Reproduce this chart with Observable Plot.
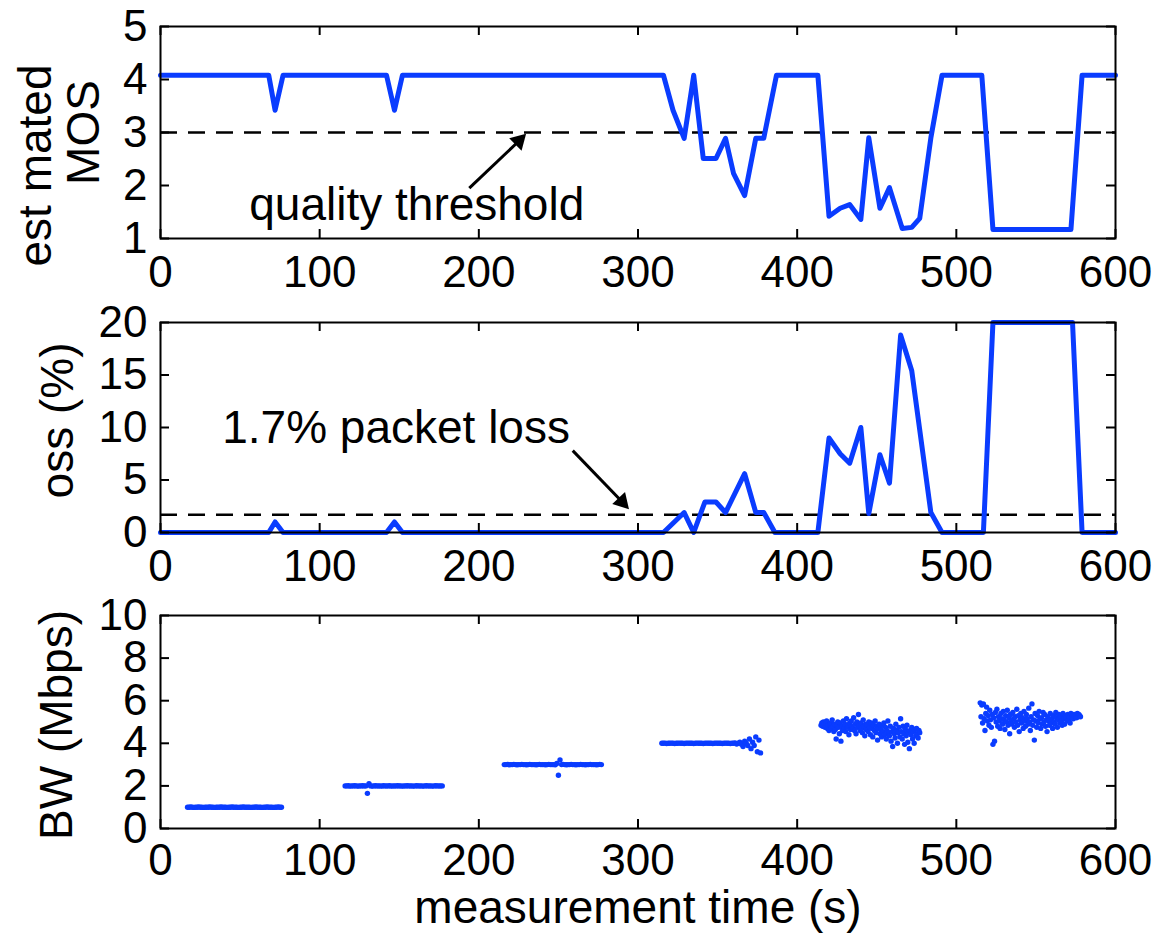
<!DOCTYPE html>
<html>
<head>
<meta charset="utf-8">
<script src="https://cdn.jsdelivr.net/npm/d3@7"></script>
<script src="https://cdn.jsdelivr.net/npm/@observablehq/plot@0.6"></script>
<style>
  html, body { margin: 0; padding: 0; background: white; }
  #chart svg { display: block; }
</style>
</head>
<body>
<div id="chart"></div>
<script>
// ---------- data ----------
const xTicks = [0, 100, 200, 300, 400, 500, 600];
const mosTicks = [1, 2, 3, 4, 5];
const lossTicks = [0, 5, 10, 15, 20];
const bwTicks = [0, 2, 4, 6, 8, 10];

const mosT = [0, 68, 72, 77, 142, 147, 152, 316, 322, 329, 335, 341, 349, 355, 360, 367, 374, 379, 387, 413, 420, 427, 433, 440, 445, 452, 458, 466, 472, 477, 484, 491, 516, 523, 572, 579, 600];
const mosV = [4.08, 4.08, 3.42, 4.08, 4.08, 3.42, 4.08, 4.08, 3.42, 2.89, 4.08, 2.51, 2.51, 2.89, 2.23, 1.81, 2.89, 2.89, 4.08, 4.08, 1.42, 1.57, 1.64, 1.36, 2.9, 1.57, 1.96, 1.19, 1.21, 1.38, 2.9, 4.08, 4.08, 1.17, 1.17, 4.08, 4.08];

const lossT = [0, 68, 72, 77, 142, 147, 152, 316, 329, 335, 342, 349, 355, 367, 374, 379, 386, 413, 420, 427, 433, 440, 445, 452, 458, 465, 472, 484, 491, 517, 523, 573, 579, 600];
const lossV = [0, 0, 1.0, 0, 0, 1.0, 0, 0, 1.9, 0, 2.9, 2.9, 1.9, 5.6, 1.9, 1.9, 0, 0, 9.0, 7.5, 6.6, 10.0, 1.8, 7.4, 4.7, 18.8, 15.4, 1.9, 0, 0, 20, 20, 0, 0];

const mosThreshold = [3];
const lossThreshold = [1.7];

// bandwidth samples: start time and sample spacing per step
const bwStart = [17, 116, 216, 315, 415, 515];
const bwStep = [1, 1, 1, 1, 0.5, 0.5];
const bw1 = [1.00,1.00,1.01,1.00,0.99,1.00,1.00,1.01,1.00,1.00,0.99,1.00,1.00,1.00,1.01,1.00,1.00,0.99,1.00,1.00,
             1.00,1.01,1.00,1.00,1.00,0.99,1.00,1.00,1.01,1.00,1.00,1.00,0.99,1.00,1.00,1.01,1.00,1.00,1.00,1.00,
             0.99,1.00,1.00,1.01,1.00,1.00,1.00,0.99,1.00,1.00,1.01,1.00,1.00,1.00,0.99,1.00,1.00,1.01,1.00,1.00];
const bw2 = [2.00,2.00,2.01,1.99,2.00,2.00,2.01,2.00,1.99,2.00,2.00,2.01,2.00,2.00,1.65,2.10,2.00,1.99,2.00,2.01,
             2.00,2.00,2.00,1.99,2.01,2.00,2.00,2.00,2.01,1.99,2.00,2.00,2.00,2.01,2.00,2.00,1.99,2.00,2.00,2.01,
             2.00,2.00,2.00,1.99,2.00,2.01,2.00,2.00,2.00,1.99,2.00,2.01,2.00,2.00,2.00,1.99,2.00,2.01,2.00,2.00,
             2.00,2.00];
const bw3 = [3.00,3.00,3.01,2.99,3.00,3.00,3.01,3.00,2.99,3.00,3.00,3.01,3.00,3.00,2.99,3.00,3.01,3.00,3.00,3.00,
             2.99,3.00,3.01,3.00,3.00,3.00,2.99,3.00,3.01,3.00,3.00,3.00,2.99,3.05,2.50,3.22,3.00,3.01,3.00,2.99,
             3.00,3.00,3.01,3.00,3.00,2.99,3.00,3.00,3.01,3.00,3.00,2.99,3.00,3.00,3.01,3.00,3.00,3.00,2.99,3.00,
             3.01,3.00];
const bw4 = [4.00,4.00,4.01,3.99,4.00,4.00,4.01,4.00,3.99,4.00,4.00,4.01,4.00,4.00,3.99,4.00,4.01,4.00,4.00,4.00,
             3.99,4.00,4.01,4.00,4.00,4.00,3.99,4.00,4.01,4.00,4.00,4.00,3.99,4.00,4.01,4.00,4.00,4.00,3.99,4.00,
             4.01,4.00,4.00,3.99,4.00,4.00,4.02,3.97,4.00,4.05,3.95,3.85,4.10,4.00,3.90,4.20,3.75,4.05,3.90,4.30,
             3.60,4.15,3.55];
const bw5 = [4.85,4.95,4.80,5.00,4.90,4.75,4.95,5.05,4.70,4.85,
             4.60,4.90,4.95,4.70,5.10,4.80,4.55,4.90,4.65,4.20,
             4.85,5.00,4.75,4.45,4.95,4.10,4.80,4.60,5.05,4.70,
             4.90,4.55,5.15,4.75,4.85,4.40,4.95,4.65,5.05,4.80,
             4.70,5.20,4.60,4.90,4.45,5.00,4.75,5.35,4.85,4.60,
             4.95,4.70,4.50,5.10,4.80,4.35,4.90,4.65,4.85,4.55,
             5.00,4.75,4.40,4.95,4.70,4.30,4.85,4.60,5.05,4.50,
             4.80,4.15,4.70,4.90,4.45,4.65,4.30,4.85,4.55,4.95,
             4.40,4.75,4.20,4.60,5.05,4.50,4.35,4.80,4.10,4.55,
             3.85,4.70,4.45,4.25,4.90,4.60,4.00,4.50,4.75,4.30,
             5.15,4.55,4.20,4.80,4.45,3.95,4.65,4.35,4.85,4.05,
             4.50,3.75,4.60,4.40,4.75,4.20,4.55,4.00,4.65,4.35,
             4.70,4.45,4.25,4.60,4.50];
const bw6 = [5.90,5.25,5.80,4.95,5.85,5.15,4.60,5.40,5.70,5.05,
             5.30,4.85,5.55,5.10,4.75,5.35,3.95,5.20,4.10,5.45,
             5.00,5.60,4.80,5.25,5.05,4.70,5.40,5.15,4.90,5.50,
             5.10,4.65,5.30,5.00,5.55,4.85,5.20,4.45,5.35,5.05,
             4.90,5.45,5.15,4.75,5.25,5.00,5.60,4.85,5.30,4.55,
             5.10,5.40,4.95,5.20,4.70,5.50,5.05,4.80,5.35,5.15,
             4.90,5.65,5.00,4.60,5.25,5.85,4.85,5.10,4.15,5.40,
             5.05,4.75,5.30,4.95,5.50,5.15,4.70,5.20,4.90,5.45,
             5.00,5.35,4.80,5.10,4.55,5.25,5.05,4.85,5.40,4.95,
             5.15,4.70,5.30,5.00,4.90,5.45,5.20,4.75,5.10,5.35,
             4.95,5.25,5.05,4.85,5.40,5.15,4.90,5.30,5.20,5.05,
             5.35,5.10,5.25,4.95,5.40,5.20,5.30,5.15,5.35,5.25,
             5.30,5.20,5.40,5.25,5.35,5.30,5.25];
const bwValues = [bw1, bw2, bw3, bw4, bw5, bw6];

const mosLabel1 = "est mated";
const mosLabel2 = "MOS";
const lossLabel = "oss (%)";
const bwLabel = "BW (Mbps)";
const xLabel = "measurement time (s)";
const note1 = ["quality threshold"];
const note1Pos = {x: 161, y: 1.62};
const arrow1 = [{x1: 194, y1: 1.95, x2: 225.2, y2: 2.84, angle: 45}];
const note2 = ["1.7% packet loss"];
const note2Pos = {x: 148, y: 9.9};
const arrow2 = [{x1: 259, y1: 7.8, x2: 290.0, y2: 2.93, angle: 137}];

// ---------- build tables ----------
const mosData = mosT.map((t, i) => ({t, v: mosV[i]}));
const lossData = lossT.map((t, i) => ({t, v: lossV[i]}));
const bwData = bwValues.flatMap((vals, g) => vals.map((v, j) => ({t: bwStart[g] + j * bwStep[g], v})));

// ---------- styling ----------
const blue = "#0a3cff";
const font = "'Liberation Sans', Arial, Helvetica, sans-serif";
const W = 1157, ML = 160, MR = 42;
const plotW = W - ML - MR;
const TICK = 9;

function axes(yTicks, plotH, xPad) {
  return [
    Plot.axisX(xTicks, {anchor: "bottom", tickSize: 0, tickPadding: xPad, fontSize: 44, label: null, tickFormat: d3.format("d")}),
    Plot.axisY(yTicks, {anchor: "left", tickSize: 0, tickPadding: 13, fontSize: 44, label: null, tickFormat: d3.format("d")}),
    // inward ticks on all four sides
    Plot.ruleX(xTicks, {x: d => d, stroke: "black", strokeWidth: 2, insetTop: plotH - TICK}),
    Plot.ruleX(xTicks, {x: d => d, stroke: "black", strokeWidth: 2, insetBottom: plotH - TICK}),
    Plot.ruleY(yTicks, {y: d => d, stroke: "black", strokeWidth: 2, insetRight: plotW - TICK}),
    Plot.ruleY(yTicks, {y: d => d, stroke: "black", strokeWidth: 2, insetLeft: plotW - TICK}),
    Plot.frame({stroke: "black", strokeWidth: 2})
  ];
}

function panel({height, marginTop, marginBottom, yDomain, yTicks, xPad = 17, marks}) {
  const plotH = height - marginTop - marginBottom;
  return Plot.plot({
    width: W,
    height,
    marginLeft: ML,
    marginRight: MR,
    marginTop,
    marginBottom,
    x: {domain: [0, 600]},
    y: {domain: yDomain},
    style: {fontFamily: font, color: "black", background: "white", overflow: "visible"},
    marks: [...marks, ...axes(yTicks, plotH, xPad)]
  });
}

function arrowMarks(data) {
  return [
    Plot.link(data, {x1: "x1", y1: "y1", x2: "x2", y2: "y2", stroke: "black", strokeWidth: 3}),
    Plot.dot(data, {x: "x2", y: "y2", symbol: "triangle", r: 6.5, rotate: "angle", fill: "black", stroke: null})
  ];
}

function yLabel(text, dx, dy) {
  return Plot.text([text], {frameAnchor: "left", text: d => d, rotate: -90, textAnchor: "middle", lineAnchor: "middle", dx, dy, fontSize: 46});
}

const p1 = panel({
  height: 290, marginTop: 26, marginBottom: 52,
  yDomain: [1, 5], yTicks: mosTicks,
  marks: [
    Plot.ruleY(mosThreshold, {stroke: "black", strokeWidth: 2.5, strokeDasharray: "17,11"}),
    Plot.line(mosData, {x: "t", y: "v", stroke: blue, strokeWidth: 5}),
    Plot.text(note1, {x: note1Pos.x, y: note1Pos.y, text: d => d, fontSize: 46, fill: "black"}),
    ...arrowMarks(arrow1),
    yLabel(mosLabel1, -124, 33),
    yLabel(mosLabel2, -76, 0)
  ]
});

const p2 = panel({
  height: 292, marginTop: 32, marginBottom: 50,
  yDomain: [0, 20], yTicks: lossTicks,
  marks: [
    Plot.ruleY(lossThreshold, {stroke: "black", strokeWidth: 2.5, strokeDasharray: "17,11"}),
    Plot.line(lossData, {x: "t", y: "v", stroke: blue, strokeWidth: 5}),
    Plot.text(note2, {x: note2Pos.x, y: note2Pos.y, text: d => d, fontSize: 46, fill: "black"}),
    ...arrowMarks(arrow2),
    yLabel(lossLabel, -102, -7)
  ]
});

const p3 = panel({
  height: 354, marginTop: 33, marginBottom: 108, xPad: 15,
  yDomain: [0, 10], yTicks: bwTicks,
  marks: [
    Plot.dot(bwData, {x: "t", y: "v", r: 2.7, fill: blue, stroke: null}),
    yLabel(bwLabel, -103, 3),
    Plot.text([xLabel], {frameAnchor: "bottom", text: d => d, dy: 62, lineAnchor: "top", fontSize: 46})
  ]
});

const root = document.getElementById("chart");
root.append(p1, p2, p3);
</script>
</body>
</html>
